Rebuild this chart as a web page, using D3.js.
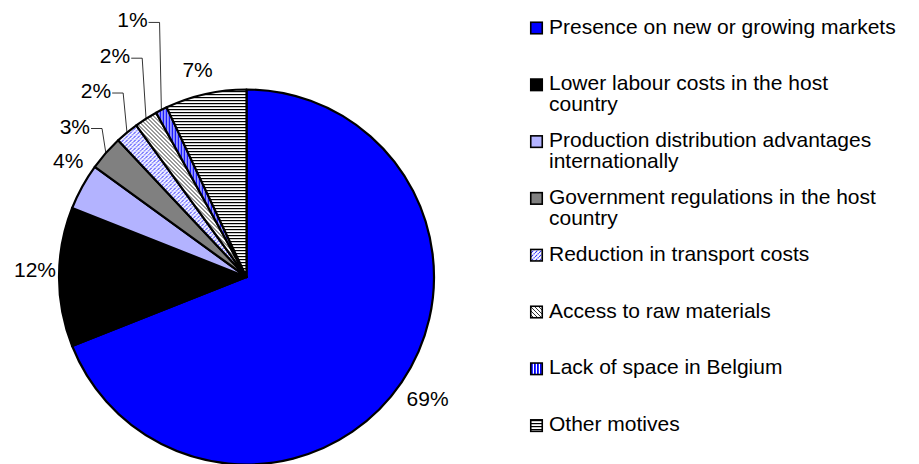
<!DOCTYPE html>
<html>
<head>
<meta charset="utf-8">
<script src="https://cdn.jsdelivr.net/npm/d3@7"></script>
<style>
  html, body { margin: 0; padding: 0; background: #fff; }
  svg text { font-family: "Liberation Sans", Arial, sans-serif; fill: #000; }
</style>
</head>
<body>
<svg id="chart" width="919" height="464"></svg>
<script>
// Motives for relocating activities abroad (share of responses, %)
const categories = [
  "Presence on new or growing markets",
  "Lower labour costs in the host country",
  "Production distribution advantages internationally",
  "Government regulations in the host country",
  "Reduction in transport costs",
  "Access to raw materials",
  "Lack of space in Belgium",
  "Other motives"
];
const values = [69, 12, 4, 3, 2, 2, 1, 7];
const valueLabels = ["69%", "12%", "4%", "3%", "2%", "2%", "1%", "7%"];

// fill keys per slice: plain colours or pattern ids
const fills = ["#0000ff", "#000000", "#b3b3ff", "#808080",
               "url(#pReduction)", "url(#pAccess)", "url(#pLack)", "url(#pOther)"];

// label placement relative to the outer edge point of each slice
const labelOffsets = [[26, 16], [-24, -8], [-14, -26], [-31, -27], [-31, -42], [-31, -63], [-29, -90], [-8, -25]];
const withLeader = [false, false, false, true, true, true, true, false];

const svg = d3.select("#chart");
const cx = 246.5, cy = 277, R = 187.5;
const fontSize = 21;

// hatch patterns
const defs = svg.append("defs");
const pr = defs.append("pattern").attr("id", "pReduction").attr("patternUnits", "userSpaceOnUse")
  .attr("width", 4).attr("height", 4);
pr.append("rect").attr("width", 4).attr("height", 4).attr("fill", "#fff");
pr.append("path").attr("d", "M0,4 L4,0 M-1,1 L1,-1 M3,5 L5,3")
  .attr("stroke", "#2a2aff").attr("stroke-width", 1.1).attr("stroke-dasharray", "1.5,0.7");

const pa = defs.append("pattern").attr("id", "pAccess").attr("patternUnits", "userSpaceOnUse")
  .attr("width", 4).attr("height", 4);
pa.append("rect").attr("width", 4).attr("height", 4).attr("fill", "#fff");
pa.append("path").attr("d", "M0,0 L4,4 M-1,3 L1,5 M3,-1 L5,1")
  .attr("stroke", "#000").attr("stroke-width", 0.8);

const pl = defs.append("pattern").attr("id", "pLack").attr("patternUnits", "userSpaceOnUse")
  .attr("width", 3).attr("height", 3);
pl.append("rect").attr("width", 3).attr("height", 3).attr("fill", "#0000ff");
pl.append("rect").attr("x", 1.8).attr("width", 1.2).attr("height", 3).attr("fill", "#fff");

const po = defs.append("pattern").attr("id", "pOther").attr("patternUnits", "userSpaceOnUse")
  .attr("width", 3).attr("height", 3);
po.append("rect").attr("width", 3).attr("height", 3).attr("fill", "#fff");
po.append("rect").attr("y", 0).attr("width", 3).attr("height", 1.2).attr("fill", "#000");

// pie starts at 12 o'clock, clockwise, in data order
const pie = d3.pie().sort(null).value(d => d)(values);
const arc = d3.arc().innerRadius(0).outerRadius(R);

const g = svg.append("g").attr("transform", `translate(${cx},${cy})`);
g.selectAll("path.slice").data(pie).join("path")
  .attr("class", "slice")
  .attr("d", arc)
  .attr("fill", (d, i) => fills[i])
  .attr("stroke", "#000")
  .attr("stroke-width", 2.2)
  .attr("stroke-linejoin", "round");

// value labels
pie.forEach((d, i) => {
  const a = (d.startAngle + d.endAngle) / 2;
  const ex = R * Math.sin(a), ey = -R * Math.cos(a);
  const lx = ex + labelOffsets[i][0], ly = ey + labelOffsets[i][1];
  const t = g.append("text")
    .attr("x", lx).attr("y", ly)
    .attr("text-anchor", "middle")
    .attr("dominant-baseline", "central")
    .style("font-size", fontSize + "px")
    .text(valueLabels[i]);
  if (withLeader[i]) {
    const w = t.node().getComputedTextLength();
    const x0 = lx + w / 2 + 1, y0 = ly + 2.5;
    g.append("polyline")
      .attr("points", [[x0, y0], [x0 + 11, y0], [ex, ey]].map(p => p.join(",")).join(" "))
      .attr("fill", "none").attr("stroke", "#000").attr("stroke-width", 0.8);
  }
});

// legend
const legX = 530, legTextX = 549, legY0 = 33.5, legStep = 56.8, lineH = 21, maxW = 350;
const leg = svg.append("g");
categories.forEach((name, i) => {
  const by = legY0 + i * legStep;
  leg.append("rect")
    .attr("x", legX + 0.75).attr("y", by - 11.25)
    .attr("width", 11.5).attr("height", 11.5)
    .attr("fill", fills[i]).attr("stroke", "#000").attr("stroke-width", 1.6);
  const t = leg.append("text").attr("x", legTextX).attr("y", by)
    .style("font-size", fontSize + "px");
  // wrap words onto lines that fit the legend width
  const words = name.split(" ");
  let line = [], lineNo = 0;
  let ts = t.append("tspan").attr("x", legTextX).attr("y", by);
  words.forEach(w => {
    line.push(w);
    ts.text(line.join(" "));
    if (ts.node().getComputedTextLength() > maxW && line.length > 1) {
      line.pop();
      ts.text(line.join(" "));
      line = [w];
      lineNo++;
      ts = t.append("tspan").attr("x", legTextX).attr("y", by + lineNo * lineH).text(w);
    }
  });
});
</script>
</body>
</html>
